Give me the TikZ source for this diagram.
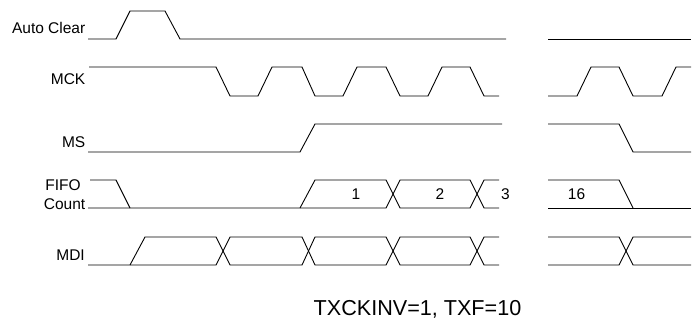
\documentclass[tikz,border=0pt]{standalone}
\usepackage{fontspec}
\setmainfont{Liberation Sans}
\usepackage{tikz}
\tikzset{
  wave/.style={line width=0.9pt, line join=miter},
  sig/.style={font=\fontsize{15.5}{18}\selectfont, anchor=base east, inner sep=0pt},
  sigc/.style={font=\fontsize{15.5}{18}\selectfont, anchor=base, inner sep=0pt},
  val/.style={font=\fontsize{15.5}{18}\selectfont, anchor=base, inner sep=0pt},
  note/.style={font=\fontsize{21.6}{26}\selectfont, anchor=base, inner sep=0pt}
}

\begin{document}
\begin{tikzpicture}[x=1pt, y=-1pt]
\useasboundingbox (0,0) rectangle (692,320);
\node[sig] (autoclear) at (85.5,33.5) {Auto Clear};
\node[sig] (mck) at (85.5,84.5) {MCK};
\node[sig] (ms) at (85.5,147.5) {MS};
\node[sigc] (fifo) at (63,190) {FIFO};
\node[sig] (count) at (85.5,209) {Count};
\node[sig] (mdi) at (85,260.7) {MDI};
\node[val] (c1) at (356,200) {1};
\node[val] (c2) at (440,200) {2};
\node[val] (c3) at (505.5,200) {3};
\node[val] (c16) at (576.5,200) {16};
\node[note] (mode) at (417.5,315.5) {TXCKINV=1, TXF=10};
\draw[wave] (88,39) -- (116,39) -- (130,11) -- (165,11) -- (180,39) -- (506,39);
\draw[wave] (548,39) -- (691,39);
\draw[wave] (89,67) -- (216,67) -- (230,96) -- (258,96) -- (272,67) -- (302,67) -- (315,96)
  -- (343,96) -- (357,67) -- (386,67) -- (400,96) -- (428,96) -- (442,67) -- (470,67)
  -- (484,96) -- (499,96);
\draw[wave] (548,96) -- (577,96) -- (591,67) -- (619,67) -- (633,96) -- (662,96) -- (676,67) -- (691,67);
\draw[wave] (88,152) -- (300,152) -- (315,124) -- (502,124);
\draw[wave] (548,124) -- (619,124) -- (633,152) -- (691,152);
\draw[wave] (90,180) -- (116,180) -- (130,208);
\draw[wave] (88,208) -- (386,208) -- (400,180) -- (470,180) -- (484,208) -- (499,208);
\draw[wave] (300,208) -- (315,180) -- (386,180) -- (400,208) -- (470,208) -- (484,180) -- (499,180);
\draw[wave] (548,180) -- (619,180) -- (633,208);
\draw[wave] (548,208) -- (691,208);
\draw[wave] (88,265) -- (216,265) -- (230,237) -- (302,237) -- (315,265) -- (386,265) -- (400,237)
  -- (470,237) -- (484,265) -- (499,265);
\draw[wave] (130,265) -- (145,237) -- (216,237) -- (230,265) -- (302,265) -- (315,237) -- (386,237)
  -- (400,265) -- (470,265) -- (484,237) -- (499,237);
\draw[wave] (548,237) -- (619,237) -- (633,265) -- (691,265);
\draw[wave] (548,265) -- (619,265) -- (633,237) -- (691,237);
\end{tikzpicture}
\end{document}
